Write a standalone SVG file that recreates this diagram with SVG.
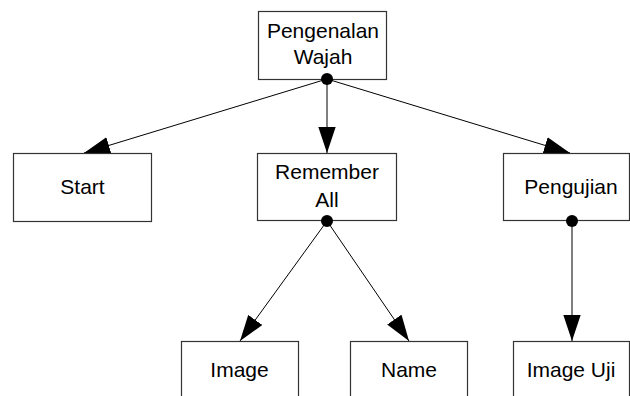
<svg xmlns="http://www.w3.org/2000/svg" width="630" height="396" viewBox="0 0 630 396">
  <style>
    .box { fill: #ffffff; stroke: #333333; stroke-width: 1.2; }
    .lbl { font-family: "Liberation Sans", Arial, sans-serif; font-size: 21px; fill: #000000; text-anchor: middle; }
    .edge { stroke: #000000; stroke-width: 1; fill: none; marker-end: url(#arrow); }
    .dot { fill: #000000; }
  </style>
  <defs>
    <marker id="arrow" markerUnits="userSpaceOnUse" markerWidth="26" markerHeight="18" viewBox="0 0 24 16" refX="24" refY="8" orient="auto">
      <path d="M0,0 L24,8 L0,16 Z" fill="#000000"/>
    </marker>
  </defs>
  <rect width="630" height="396" fill="#ffffff"/>

  <g id="connectors">
    <line class="edge" x1="327" y1="79" x2="84" y2="153"/>
    <line class="edge" x1="327" y1="79" x2="327" y2="153"/>
    <line class="edge" x1="327" y1="79" x2="570" y2="153"/>
    <line class="edge" x1="327" y1="221" x2="240" y2="341"/>
    <line class="edge" x1="327" y1="221" x2="409" y2="341"/>
    <line class="edge" x1="572" y1="221" x2="572" y2="341"/>
  </g>

  <g id="pengenalan-wajah">
    <rect class="box" x="258.5" y="11.5" width="128" height="68"/>
    <text class="lbl" x="323" y="38">Pengenalan</text>
    <text class="lbl" x="323" y="64">Wajah</text>
  </g>

  <g id="start">
    <rect class="box" x="13.5" y="153.5" width="138" height="68"/>
    <text class="lbl" x="82.5" y="194">Start</text>
  </g>

  <g id="remember-all">
    <rect class="box" x="257.5" y="153.5" width="139" height="67"/>
    <text class="lbl" x="327" y="179">Remember</text>
    <text class="lbl" x="327" y="207">All</text>
  </g>

  <g id="pengujian">
    <rect class="box" x="503.5" y="153.5" width="126" height="67"/>
    <text class="lbl" x="571" y="194">Pengujian</text>
  </g>

  <g id="image">
    <rect class="box" x="181.5" y="341.5" width="117" height="60"/>
    <text class="lbl" x="239.5" y="377">Image</text>
  </g>

  <g id="name">
    <rect class="box" x="350.5" y="341.5" width="117" height="60"/>
    <text class="lbl" x="409" y="377">Name</text>
  </g>

  <g id="image-uji">
    <rect class="box" x="513.5" y="341.5" width="116" height="60"/>
    <text class="lbl" x="571" y="377">Image Uji</text>
  </g>

  <g id="junctions">
    <circle class="dot" cx="327" cy="79" r="6"/>
    <circle class="dot" cx="327" cy="221" r="6"/>
    <circle class="dot" cx="572" cy="221" r="6"/>
  </g>
</svg>
